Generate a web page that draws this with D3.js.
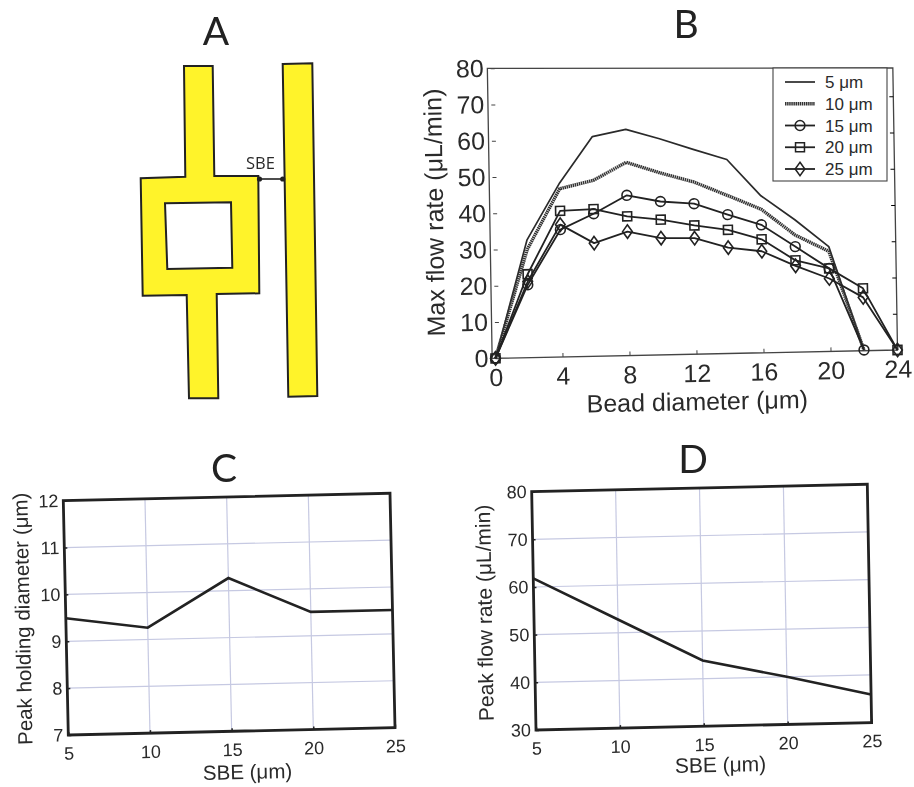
<!DOCTYPE html>
<html><head><meta charset="utf-8">
<script src="https://cdn.jsdelivr.net/npm/d3@7/dist/d3.min.js"></script>
<style>
html,body{margin:0;padding:0;background:#fff;}
svg{display:block;filter:blur(.35px);}
text{font-family:"Liberation Sans",Arial,sans-serif;fill:#2a2a2a;}
.letter{font-family:Lato,"Open Sans",sans-serif;}
</style></head><body>
<svg id="c" width="914" height="787"></svg>
<script>
// Panel B values
const beadDiameter = [0,2,4,6,8,10,12,14,16,18,20,22,24];
const flow5  = [0,32.5,48,60.6,62.4,59.6,56.5,53.5,43.3,36.5,28.9,0.2];
const flow10 = [0,29.8,46.4,48.5,53.3,50.2,47.5,43.6,39.6,32.3,27.6,0.2];
const flow15 = [0,20.1,35.1,39.3,44.2,42.3,41.5,38.3,35.3,29.1,22.9,0.2];
const flow20 = [0,23,40.3,40.6,38.4,37.3,35.5,34.1,31.3,25.3,22.9,17.2,0];
const flow25 = [0,21,36.5,31.2,34.2,32.2,32,29.2,28,23.8,20.1,14.7,0];
const seriesNames = ["5 μm","10 μm","15 μm","20 μm","25 μm"];
// Panels C and D values
const sbe = [5,10,15,20,25];
const peakDiameter = [9.49,9.25,10.27,9.51,9.51];
const peakFlow = [61.8,52.8,43.8,40,35.9];
const xTicksB = [0,4,8,12,16,20,24];
const yTicksB = [0,10,20,30,40,50,60,70,80];
const yTicksC = [7,8,9,10,11,12];
const yTicksD = [30,40,50,60,70,80];

const svg = d3.select("#c");
const INK = "#222";

function panel(tl,tr,bl,W,H){
  const a=(tr[0]-tl[0])/W,b=(tr[1]-tl[1])/W,c=(bl[0]-tl[0])/H,d=(bl[1]-tl[1])/H;
  return svg.append("g").attr("transform",`matrix(${a} ${b} ${c} ${d} ${tl[0]} ${tl[1]})`);
}
function letter(t,x,y){svg.append("text").attr("class","letter").attr("x",x).attr("y",y)
  .attr("text-anchor","middle").attr("font-size",39).style("fill","#222").text(t);}

// ---------- Panel A: schematic
const outer=[[184,66],[212.7,66],[214.3,176],[258.3,176],[259.3,293.3],[216.7,294],[218.3,398.3],[189,398.3],[186.7,295],[142.7,295.7],[140.7,178.3],[185.3,176.7]];
const hole=[[165,203.3],[231,202.3],[232.3,267.7],[167.3,269]];
const bar=[[282.7,64],[312.3,63.3],[317.3,396],[288.3,396.7]];
const closed=d3.line().curve(d3.curveLinearClosed);
const gA=svg.append("g");
gA.append("path").attr("d",closed(outer)+closed(hole)).attr("fill","#fff32a").attr("fill-rule","evenodd").attr("stroke",INK).attr("stroke-width",2);
gA.append("path").attr("d",closed(bar)).attr("fill","#fff32a").attr("stroke",INK).attr("stroke-width",2);
gA.append("line").attr("x1",259.5).attr("x2",282.7).attr("y1",179).attr("y2",179).attr("stroke",INK).attr("stroke-width",1.6);
[259.5,282.7].forEach(x=>gA.append("circle").attr("cx",x).attr("cy",179).attr("r",2.6).attr("fill",INK));
gA.append("text").attr("x",260.5).attr("y",169).attr("text-anchor","middle").attr("font-size",16.5).style("font-family","Open Sans").text("SBE");
letter("A",216,45); letter("B",686,38); letter("C",224,482); letter("D",693,473);

// ---------- Panel B
{
  const W=402,H=290;
  const g=panel([490.7,68.3],[892.7,60],[495.5,358.3],W,H);
  const x=d3.scaleLinear().domain([0,24]).range([0,W]);
  const y=d3.scaleLinear().domain([0,80]).range([H,0]);
  const fs=25;
  const frame=d3.line().x(d=>x(d[0])).y(d=>y(d[1])).curve(d3.curveLinearClosed);
  g.append("path").attr("d",frame([[-0.2,0],[24,0],[24,77.8],[-0.2,80]])).attr("fill","none").attr("stroke","#444").attr("stroke-width",1.3);
  const ax=g.append("g").attr("transform",`translate(0,${H})`).call(d3.axisBottom(x).tickValues(xTicksB).tickSize(-4).tickPadding(10));
  const ay=g.append("g").call(d3.axisLeft(y).tickValues(yTicksB).tickSize(-4).tickPadding(7));
  g.append("g").attr("transform",`translate(${W},0)`).call(d3.axisRight(y).tickValues(yTicksB.slice(1,-1)).tickSize(-4).tickFormat(""));
  [ax,ay].forEach(a=>{a.selectAll("text").attr("font-size",fs).style("fill","#2a2a2a").style("font-family","Liberation Sans");a.selectAll("line").attr("stroke","#444");});
  g.selectAll(".domain").remove();
  g.append("text").attr("x",W/2).attr("y",H+56).attr("text-anchor","middle").attr("font-size",25).text("Bead diameter (μm)");
  g.append("text").attr("transform",`translate(-50,${H/2-2}) rotate(-90)`).attr("text-anchor","middle").attr("font-size",25).text("Max flow rate (μL/min)");

  const series=[flow5,flow10,flow15,flow20,flow25];
  const styles=[
    {w:1.7,c:"#2a2a2a",m:null},
    {w:3.4,c:"#333",m:null,dash:"1.5 0.6"},
    {w:1.8,c:INK,m:"circle"},
    {w:1.8,c:INK,m:"square"},
    {w:1.8,c:INK,m:"diamond"}];
  const sym={circle:d3.symbol(d3.symbolCircle,75),square:d3.symbol(d3.symbolSquare,80),
    diamond:d3.symbol().type({draw(c,s){const r=Math.sqrt(s);c.moveTo(0,-r);c.lineTo(r*.72,0);c.lineTo(0,r);c.lineTo(-r*.72,0);c.closePath();}}).size(45)};
  const ln=d3.line().x((d,i)=>x(beadDiameter[i])).y(d=>y(d));
  series.forEach((s,k)=>{
    const st=styles[k];
    const p=g.append("path").attr("d",ln(s)).attr("fill","none").attr("stroke",st.c).attr("stroke-width",st.w).attr("stroke-linejoin","round");
    if(st.dash)p.attr("stroke-dasharray",st.dash);
    if(st.m) g.selectAll(null).data(s).join("path").attr("d",sym[st.m]())
      .attr("transform",(d,i)=>`translate(${x(beadDiameter[i])},${y(d)})`)
      .attr("fill","none").attr("stroke",st.c).attr("stroke-width",1.6);
  });
  // legend (axis-aligned, sits over the panel)
  const lg=svg.append("g").attr("transform","translate(773,68)");
  lg.append("rect").attr("width",114).attr("height",113).attr("fill","#fff").attr("stroke","#444").attr("stroke-width",1.1);
  const rowY=d3.scalePoint().domain(seriesNames).range([14,101]);
  seriesNames.forEach((n,k)=>{
    const st=styles[k],yy=rowY(n);
    const l=lg.append("line").attr("x1",12).attr("x2",42).attr("y1",yy).attr("y2",yy).attr("stroke",st.c).attr("stroke-width",st.w);
    if(st.dash)l.attr("stroke-dasharray",st.dash);
    if(st.m)lg.append("path").attr("d",sym[st.m]()).attr("transform",`translate(27,${yy})`).attr("fill","none").attr("stroke",st.c).attr("stroke-width",1.5);
    lg.append("text").attr("x",52).attr("y",yy+6).attr("font-size",17).text(n);
  });
}

// ---------- Panels C and D
function lower(tl,tr,bl,yDom,yT,vals,label,fs,lblFs,xl,yl){
  const W=Math.hypot(tr[0]-tl[0],tr[1]-tl[1]),H=Math.hypot(bl[0]-tl[0],bl[1]-tl[1]);
  const g=panel(tl,tr,bl,W,H);
  const x=d3.scaleLinear().domain([5,25]).range([0,W]);
  const y=d3.scaleLinear().domain(yDom).range([H,0]);
  g.append("g").selectAll("line").data(sbe.slice(1,-1)).join("line").attr("x1",x).attr("x2",x).attr("y1",0).attr("y2",H).attr("stroke","#c6c9e2").attr("stroke-width",1.2);
  g.append("g").selectAll("line").data(yT.slice(1,-1)).join("line").attr("y1",y).attr("y2",y).attr("x1",0).attr("x2",W).attr("stroke","#c6c9e2").attr("stroke-width",1.2);
  const ax=g.append("g").attr("transform",`translate(0,${H})`).call(d3.axisBottom(x).tickValues(sbe).tickSize(-3).tickPadding(12));
  const ay=g.append("g").call(d3.axisLeft(y).tickValues(yT).tickFormat(d3.format("d")).tickSize(-3).tickPadding(5));
  g.selectAll(".domain").remove();
  [ax,ay].forEach(a=>{a.selectAll("text").attr("font-size",fs).style("fill","#2a2a2a").style("font-family","Liberation Sans");a.selectAll("line").attr("stroke",INK).attr("stroke-width",1.5);});
  g.append("path").attr("d",d3.line().x((d,i)=>x(sbe[i])).y(d=>y(d))(vals)).attr("fill","none").attr("stroke",INK).attr("stroke-width",2.6);
  g.append("rect").attr("width",W).attr("height",H).attr("fill","none").attr("stroke",INK).attr("stroke-width",2.8);
  g.append("text").attr("x",W/2+xl[0]).attr("y",H+xl[1]).attr("text-anchor","middle").attr("font-size",lblFs).text("SBE (μm)");
  g.append("text").attr("transform",`translate(${yl[0]},${H/2+yl[1]}) rotate(-90)`).attr("text-anchor","middle").attr("font-size",lblFs).text(label);
}
lower([63.3,500.7],[390,493.3],[68.3,735],[7,12],yTicksC,peakDiameter,"Peak holding diameter (μm)",18,20.5,[15,48],[-36,0]);
lower([531.7,491.7],[867.3,484.3],[536,730],[30,80],yTicksD,peakFlow,"Peak flow rate (μL/min)",18,21,[16,46],[-42,1]);
</script>
</body></html>
